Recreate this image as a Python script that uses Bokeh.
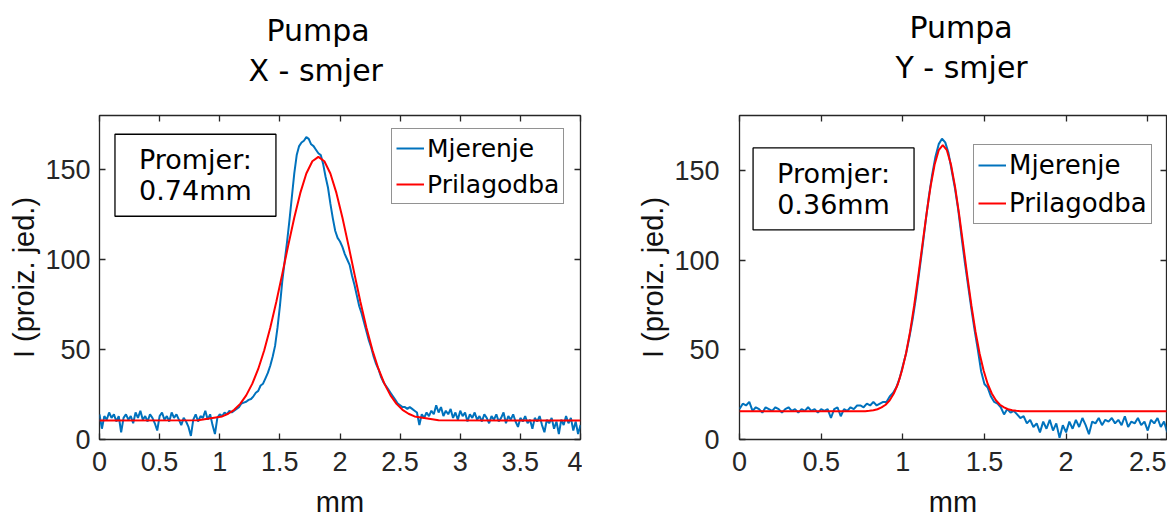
from bokeh.plotting import figure
from bokeh.layouts import row
from bokeh.models import (LinearAxis, FixedTicker, Range1d, Title, Label,
                          Legend, LegendItem)
from bokeh.embed import file_html
from bokeh.resources import INLINE

# ---------------- data ----------------
titles_top = ["Pumpa", "Pumpa"]
titles_sub = ["X - smjer", "Y - smjer"]
diam_texts = ["Promjer:\n0.74mm", "Promjer:\n0.36mm"]
series_names = ["Mjerenje", "Prilagodba"]
x_label = "mm"
y_label = "I (proiz. jed.)"

x_step = 0.02  # sampling step of the measured profiles (mm)

# Left panel (X direction): measured profile, x = 0, 0.02, ... 4.00
meas_x_dir = [
    14, 6, 13, 11, 15, 12, 14, 10, 13, 4, 12, 14, 11, 13, 9, 15, 12, 16, 11, 13,
    10, 14, 12, 9, 5, 13, 15, 11, 13, 10, 15, 12, 14, 11, 8, 12, 10, 7, 2, 11,
    14, 10, 13, 12, 16, 11, 14, 8, 3, 12, 14, 13, 15, 14, 16, 15,
    16, 17, 18, 20, 20.5, 21, 22, 22.5, 24, 26,
    27, 30, 31, 34, 37, 41, 46, 52, 62, 74,
    88, 99, 110, 122, 135, 148, 158, 163, 165, 166,
    168, 167, 164, 163, 161, 159, 158, 153, 146, 140,
    131, 123, 116, 112, 110, 107, 103, 100, 97, 91,
    86, 80, 74, 70, 65, 60, 55, 51, 46, 42,
    39, 35, 32, 30, 28, 26, 24, 22, 20, 19,
    18, 18, 17, 18, 17, 16, 15,
    8, 14, 12, 15, 13, 16, 14, 19, 15, 18,
    13, 16, 14, 17, 12, 15, 11, 16, 13, 15,
    10, 14, 12, 15, 11, 13, 10, 14, 12, 9,
    13, 11, 14, 10, 12, 15, 9, 13, 11, 14,
    10, 7, 12, 10, 13, 9, 11, 6, 12, 10,
    13, 8, 4, 11, 9, 12, 6, 10, 3, 11,
    8, 13, 9, 12, 5, 10, 3, 8,
]
# Left panel fit curve
fit_x_dir_x = [0.0, 0.82, 1.02, 1.07, 1.12, 1.17, 1.22, 1.27, 1.32, 1.37, 1.42,
               1.47, 1.52, 1.57, 1.62, 1.67, 1.72, 1.77, 1.82, 1.87, 1.92, 1.97,
               2.02, 2.07, 2.12, 2.17, 2.22, 2.27, 2.32, 2.37, 2.42, 2.47, 2.52,
               2.57, 2.62, 2.82, 4.0]
fit_x_dir_y = [10.5, 10.7, 12.8, 14.3, 16.5, 19.8, 24.5, 30.9, 39.2, 49.6, 62.1,
               76.4, 92.0, 108.0, 123.3, 137.0, 147.8, 154.6, 157.0, 154.6, 147.8,
               137.0, 123.3, 108.0, 92.0, 76.4, 62.1, 49.6, 39.2, 30.9, 24.5, 19.8,
               16.5, 14.3, 12.8, 10.7, 10.5]

# Right panel (Y direction): measured profile, x = 0, 0.02, ... 2.62
meas_y_dir = [
    17, 20, 19, 21, 16, 18, 17, 15, 18, 17, 16, 18, 17, 15, 17, 18, 16, 17, 15, 17,
    16, 18, 16, 17, 15, 17, 16, 17, 12, 17, 18, 13, 17, 16, 18, 17, 19, 19, 18, 20,
    19, 21, 19, 20, 21,
    21, 24, 26, 29, 34, 41, 48, 57, 67, 79,
    93, 107, 122, 136, 148, 158, 165, 168, 166, 160,
    150, 140, 128, 113, 99, 86, 73, 61, 50, 38,
    31, 29, 24, 21, 20, 18,
    14, 17, 15, 16, 14, 12, 13, 9, 11, 7,
    9, 4, 10, 6, 11, 5, 9, 1, 8, 4,
    10, 6, 11, 7, 12, 8, 3, 10, 9, 12,
    8, 11, 10, 12, 9, 11, 8, 13, 7, 10,
    9, 12, 8, 10, 5, 11, 9, 12, 7, 10,
    4,
]
fit_y_dir_x = [0.0, 0.745, 0.77, 0.795, 0.82, 0.845, 0.87, 0.895, 0.92, 0.945,
               0.97, 0.995, 1.02, 1.045, 1.07, 1.095, 1.12, 1.145, 1.17, 1.195,
               1.22, 1.245, 1.27, 1.295, 1.32, 1.345, 1.37, 1.395, 1.42, 1.445,
               1.47, 1.495, 1.52, 1.545, 1.57, 1.595, 1.62, 1.645, 1.67, 1.695,
               1.72, 1.745, 2.62]
fit_y_dir_y = [15.8, 15.8, 15.85, 16.0, 16.3, 16.9, 17.9, 19.4, 21.9, 25.7, 31.0,
               38.5, 48.2, 60.4, 75.0, 91.4, 108.7, 125.8, 141.3, 153.6, 161.6,
               164.4, 161.6, 153.6, 141.3, 125.8, 108.7, 91.4, 75.0, 60.4, 48.2,
               38.5, 31.0, 25.7, 21.9, 19.4, 17.9, 16.9, 16.3, 16.0, 15.85, 15.8,
               15.8]

x_ticks_left = [0, 0.5, 1, 1.5, 2, 2.5, 3, 3.5, 4]
x_tick_labels_left = ["0", "0.5", "1", "1.5", "2", "2.5", "3", "3.5", "4"]
x_ticks_right = [0, 0.5, 1, 1.5, 2, 2.5]
x_tick_labels_right = ["0", "0.5", "1", "1.5", "2", "2.5"]
y_ticks = [0, 50, 100, 150]
y_tick_labels = ["0", "50", "100", "150"]

# ---------------- styling ----------------
BLUE = "#0072BD"
RED = "#FF0000"
AX = "#262626"
TICK_FONT = "Liberation Sans"
TEXT_FONT = "DejaVu Sans"


def bare_axis(ticker, tick_in, tick_out, color):
    ax = LinearAxis(ticker=ticker)
    ax.axis_line_color = None
    ax.major_tick_in = tick_in
    ax.major_tick_out = tick_out
    ax.minor_tick_in = 0
    ax.minor_tick_out = 0
    ax.major_tick_line_color = color
    ax.major_tick_line_width = 1.3
    ax.minor_tick_line_color = None
    ax.major_label_text_font_size = "0px"
    ax.major_label_text_color = None
    ax.major_label_standoff = 0
    return ax


def panel(meas, fit_x, fit_y, xr, yr, xticks, xlabels, title_top, title_sub,
          diam, box_pos, legend_loc, width, borders, ystandoff, title_gap,
          title_offsets, leg_font, leg_row):
    xs = [round(i * x_step, 2) for i in range(len(meas))]
    p = figure(width=width, height=520, x_range=Range1d(*xr), y_range=Range1d(*yr),
               output_backend="svg", toolbar_location=None,
               min_border_left=borders[0], min_border_right=borders[1],
               min_border_top=borders[2], min_border_bottom=borders[3],
               title=title_top)
    p.grid.visible = False
    p.outline_line_color = AX
    p.outline_line_width = 1.3
    p.background_fill_color = "white"
    p.border_fill_color = "white"

    r_meas = p.line(xs, meas, line_color=BLUE, line_width=2)
    r_fit = p.line(fit_x, fit_y, line_color=RED, line_width=2)

    xt = FixedTicker(ticks=xticks)
    yt = FixedTicker(ticks=y_ticks)
    for ax in p.xaxis:
        ax.ticker = xt
        ax.major_label_overrides = {t: l for t, l in zip(xticks, xlabels)}
        ax.major_label_standoff = 12
        ax.axis_label = x_label
        ax.axis_label_standoff = 12
    for ax in p.yaxis:
        ax.ticker = yt
        ax.major_label_overrides = {t: l for t, l in zip(y_ticks, y_tick_labels)}
        ax.major_label_standoff = ystandoff
        ax.axis_label = y_label
        ax.axis_label_standoff = 2
    for ax in list(p.xaxis) + list(p.yaxis):
        ax.axis_line_color = None
        ax.major_tick_in = 6
        ax.major_tick_out = 0
        ax.minor_tick_in = 0
        ax.minor_tick_out = 0
        ax.major_tick_line_color = AX
        ax.major_tick_line_width = 1.3
        ax.minor_tick_line_color = None
        ax.major_label_text_font = TICK_FONT
        ax.major_label_text_font_size = "27px"
        ax.major_label_text_color = AX
        ax.axis_label_text_font = TICK_FONT
        ax.axis_label_text_font_size = "29px"
        ax.axis_label_text_font_style = "normal"
        ax.axis_label_text_color = "#111111"

    # box ticks on top and right (inside only)
    p.add_layout(bare_axis(xt, 6, 0, AX), "above")
    p.add_layout(bare_axis(yt, 6, 0, AX), "right")
    # invisible spacer between plot box and the two title lines
    p.add_layout(bare_axis(xt, 0, title_gap, None), "above")

    sub = Title(text=title_sub, align="left", offset=title_offsets[1],
                text_font=TEXT_FONT, text_font_size="30px",
                text_font_style="normal", text_color="black", standoff=6)
    p.add_layout(sub, "above")
    p.title.align = "left"
    p.title.offset = title_offsets[0]
    p.title.text_font = TEXT_FONT
    p.title.text_font_size = "30px"
    p.title.text_font_style = "normal"
    p.title.text_color = "black"
    p.title.standoff = 0

    lab = Label(x=box_pos[0], y=box_pos[1], text=diam, text_align="center",
                text_baseline="middle", text_font=TEXT_FONT,
                text_font_size="27px", text_line_height=1.0, text_color="black",
                border_line_color="black", border_line_width=1.3,
                background_fill_color="white", padding=(24, 10))
    p.add_layout(lab)

    leg = Legend(items=[LegendItem(label=series_names[0], renderers=[r_meas]),
                        LegendItem(label=series_names[1], renderers=[r_fit])],
                 location=legend_loc)
    leg.label_text_font = TEXT_FONT
    leg.label_text_font_size = leg_font
    leg.label_text_color = "black"
    leg.glyph_width = 28
    leg.glyph_height = leg_row
    leg.label_height = leg_row
    leg.label_standoff = 3
    leg.padding = 4
    leg.spacing = 6
    leg.margin = 0
    leg.border_line_color = AX
    leg.border_line_width = 1.3
    leg.background_fill_color = "white"
    leg.background_fill_alpha = 1
    p.add_layout(leg)
    return p


p1 = panel(meas_x_dir, fit_x_dir_x, fit_x_dir_y, (0, 4), (0, 180),
           x_ticks_left, x_tick_labels_left, titles_top[0], titles_sub[0],
           diam_texts[0], (0.798, 146.8), (292, 235), 582, (99, 2, 112, 79), 9,
           25, (167, 149), "25px", 30)
p2 = panel(meas_y_dir, fit_y_dir_x, fit_y_dir_y, (0, 2.615), (0, 181),
           x_ticks_right, x_tick_labels_right, titles_top[1], titles_sub[1],
           diam_texts[1], (0.576, 140.0), (234, 215), 585, (157, 1, 115, 79), 20,
           28, (170, 156), "26px", 32)

layout = row(p1, p2)
open("out.html", "w").write(file_html(layout, INLINE))
